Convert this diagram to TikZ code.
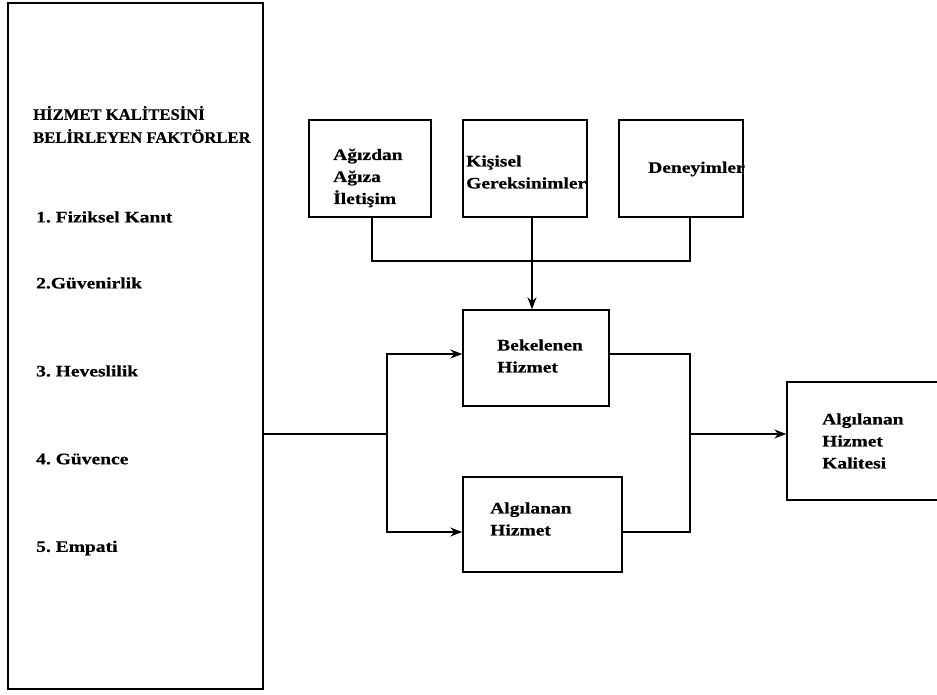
\documentclass[tikz,border=0pt]{standalone}
\usepackage{fontspec}
\setmainfont{Liberation Serif}
% a slightly widened, heavier bold for the box labels
\newfontfamily\labelfont[FakeStretch=1.22,FakeBold=0.5]{Liberation Serif}
\newfontfamily\headfont[FakeStretch=1.04,FakeBold=0.5]{Liberation Serif}
\usetikzlibrary{arrows.meta}
\begin{document}
\frenchspacing
\begin{tikzpicture}[x=1pt,y=-1pt,
  box/.style={draw, line width=1.4pt, inner sep=0pt},
  txt/.style={anchor=west, inner sep=0pt, align=left,
    font=\labelfont\bfseries\fontsize{16}{22}\selectfont},
  wire/.style={line width=1.4pt},
  arrow/.style={wire, -{Stealth[length=12pt,width=9pt]}}]
\useasboundingbox (0,0) rectangle (937,695);

% factor list panel
\node[box, minimum width=255pt, minimum height=686pt] (panel) at (135.5,346) {};
\node[txt, font=\headfont\bfseries\fontsize{16}{23}\selectfont] (title) at (33,124.5)
  {HİZMET KALİTESİNİ\\BELİRLEYEN FAKTÖRLER};
\node[txt] (f1) at (36,217) {1. Fiziksel Kanıt};
\node[txt] (f2) at (36,283) {2.Güvenirlik};
\node[txt] (f3) at (36,371) {3. Heveslilik};
\node[txt] (f4) at (36,459) {4. Güvence};
\node[txt] (f5) at (36,548) {5. Empati};

% expectation sources
\node[box, minimum width=122pt, minimum height=97pt] (agiz) at (370,168.5) {};
\node[txt] (agizt) at (333,178) {Ağızdan\\Ağıza\\İletişim};
\node[box, minimum width=124pt, minimum height=97pt] (kisi) at (525,168.5) {};
\node[txt] (kisit) at (466,172) {Kişisel\\Gereksinimler};
\node[box, minimum width=124pt, minimum height=97pt] (deney) at (681,168.5) {};
\node[txt] (deneyt) at (648,169) {Deneyimler};

% service boxes
\node[box, minimum width=146pt, minimum height=96pt] (bek) at (536,358) {};
\node[txt] (bekt) at (497,356) {Bekelenen\\Hizmet};
\node[box, minimum width=159pt, minimum height=95pt] (alg) at (542.5,524.5) {};
\node[txt] (algt) at (490,519) {Algılanan\\Hizmet};
\node[box, minimum width=170pt, minimum height=118pt] (ahk) at (872,441) {};
\node[txt] (ahkt) at (822,441) {Algılanan\\Hizmet\\Kalitesi};

% junction points
\coordinate (jtop) at (532,261);
\coordinate (jleft) at (387,434);
\coordinate (jright) at (690,434);

% sources merge into the expected service
\draw[wire] (agiz.south -| 372,0) |- (jtop);
\draw[wire] (deney.south -| jright) |- (jtop);
\draw[wire] (kisi.south -| jtop) -- (jtop);
\draw[arrow] (jtop) -- (bek.north -| jtop);

% factors feed both service boxes
\draw[wire] (panel.east |- jleft) -- (jleft);
\draw[arrow] (jleft) |- (bek.west |- 0,354);
\draw[arrow] (jleft) |- (alg.west |- 0,532);

% both services combine into perceived quality
\draw[wire] (bek.east |- 0,354) -| (jright);
\draw[wire] (alg.east |- 0,532) -| (jright);
\draw[arrow] (jright) -- (ahk.west |- jright);
\end{tikzpicture}
\end{document}
